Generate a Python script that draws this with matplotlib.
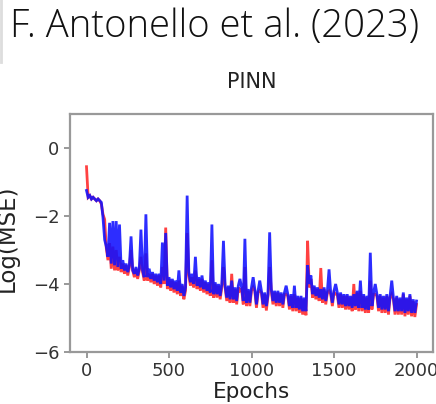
import numpy as np
import matplotlib
matplotlib.use("Agg")
import matplotlib.pyplot as plt
from matplotlib.lines import Line2D

# epochs sampled every 10 (0..2000)
epochs = np.arange(0, 2001, 10)

# log(MSE), blue curve
blue_loss = [
    -1.25, -1.45, -1.4, -1.5, -1.45, -1.5, -1.55, -1.5, -1.55, -1.6,
    -2.05, -2.7, -2.9, -3.2, -2.2, -3.4, -2.15, -3.45, -2.15, -3.5,
    -2.25, -3.55, -3.3, -3.6, -3.4, -3.65, -3.45, -2.6, -3.6, -3.7,
    -3.5, -3.75, -3.55, -2.4, -3.6, -3.8, -1.95, -3.8, -3.55, -3.85,
    -3.65, -3.9, -3.7, -3.95, -3.7, -4.0, -2.78, -3.9, -2.5, -4.05,
    -3.8, -4.1, -3.85, -4.15, -3.9, -4.2, -3.6, -4.25, -4.0, -4.35,
    -4.1, -1.4, -3.65, -3.95, -3.7, -4.0, -3.2, -4.05, -3.8, -4.1,
    -3.75, -4.15, -3.9, -4.2, -3.95, -4.25, -2.25, -4.3, -3.95, -4.3,
    -4.0, -4.35, -4.0, -2.73, -4.05, -4.4, -4.05, -4.45, -3.9, -4.45,
    -4.1, -4.5, -4.05, -3.85, -4.1, -4.5, -2.67, -4.55, -4.15, -4.55,
    -4.1, -3.8, -4.15, -4.6, -4.2, -3.9, -4.2, -4.6, -4.25, -4.65,
    -4.3, -2.48, -4.15, -4.5, -4.2, -4.55, -4.2, -4.55, -4.25, -4.6,
    -4.25, -4.05, -4.3, -4.65, -4.3, -4.7, -4.05, -4.7, -4.35, -4.75,
    -4.35, -4.8, -4.4, -4.8, -3.45, -4.0, -3.75, -4.3, -4.05, -4.35,
    -4.1, -4.4, -4.15, -4.45, -4.1, -4.5, -4.2, -3.57, -4.25, -4.55,
    -4.2, -4.0, -4.25, -4.6, -4.25, -4.6, -4.3, -4.65, -4.3, -4.65,
    -4.35, -4.7, -4.3, -4.65, -4.2, -4.7, -3.9, -4.7, -4.3, -4.75,
    -4.35, -4.75, -3.08, -4.65, -4.25, -4.0, -4.3, -4.7, -4.3, -4.75,
    -4.35, -4.75, -4.3, -4.8, -4.35, -3.9, -4.4, -4.8, -4.35, -4.8,
    -4.4, -4.8, -4.25, -4.85, -4.4, -4.8, -4.3, -4.85, -4.45, -4.85,
    -4.5,
]

# red curve (mostly hidden under the blue one)
red_loss = [
    -0.55, -1.45, -1.4, -1.5, -1.45, -1.5, -1.55, -1.5, -1.55, -1.65,
    -1.95, -2.1, -2.95, -3.3, -2.8, -3.55, -2.9, -3.6, -3.0, -3.6,
    -3.2, -3.65, -3.4, -3.7, -3.45, -3.75, -3.5, -3.0, -3.6, -3.8,
    -3.55, -3.85, -3.6, -3.2, -3.65, -3.9, -3.1, -3.9, -3.7, -3.95,
    -3.7, -4.0, -3.75, -4.05, -3.75, -4.1, -3.5, -4.0, -2.34, -4.15,
    -3.85, -4.2, -3.9, -4.25, -3.95, -4.3, -3.9, -4.35, -4.05, -4.45,
    -4.2, -2.5, -3.75, -4.05, -3.8, -4.1, -3.6, -4.15, -3.85, -4.2,
    -3.85, -4.25, -3.95, -4.3, -4.0, -4.35, -3.3, -4.4, -4.0, -4.4,
    -4.05, -4.45, -4.1, -3.5, -4.1, -4.5, -4.1, -4.55, -3.7, -4.55,
    -4.15, -4.6, -4.1, -4.2, -4.15, -4.6, -3.5, -4.65, -4.2, -4.65,
    -4.2, -4.1, -4.2, -4.7, -4.25, -4.2, -4.25, -4.7, -4.3, -4.78,
    -4.35, -3.5, -4.2, -4.6, -4.25, -4.65, -4.25, -4.65, -4.3, -4.7,
    -4.3, -4.3, -4.35, -4.75, -4.35, -4.8, -4.3, -4.8, -4.4, -4.85,
    -4.4, -4.9, -4.45, -4.92, -2.73, -4.1, -3.85, -4.4, -4.1, -4.45,
    -4.15, -4.5, -3.53, -4.55, -4.15, -4.6, -4.25, -4.2, -4.3, -4.65,
    -4.25, -4.3, -4.3, -4.7, -4.3, -4.7, -4.35, -4.75, -4.35, -4.75,
    -4.4, -4.8, -4.0, -4.75, -4.25, -4.8, -4.2, -4.8, -4.35, -4.85,
    -4.4, -4.85, -3.9, -4.75, -4.3, -4.3, -4.35, -4.8, -4.35, -4.85,
    -4.4, -4.85, -4.35, -4.9, -4.4, -4.3, -4.45, -4.9, -4.4, -4.9,
    -4.45, -4.9, -4.3, -4.95, -4.45, -4.9, -4.35, -4.95, -4.5, -4.97,
    -4.6,
]

xticks = [0, 500, 1000, 1500, 2000]
yticks = [0, -2, -4, -6]

fig = plt.figure(figsize=(4.36, 4.04), dpi=100)
ax = fig.add_axes([70 / 436, 52 / 404, 363 / 436, 238 / 404])

ax.plot(epochs, red_loss, color="#ff2020", lw=2.0, alpha=0.85, solid_joinstyle="miter")
ax.plot(epochs, blue_loss, color="#1010ff", lw=2.0, alpha=0.88, solid_joinstyle="miter")

ax.set_xlim(-100, 2100)
ax.set_ylim(-6, 1)
ax.set_xticks(xticks)
ax.set_yticks(yticks)
ax.tick_params(labelsize=13, colors="#888888", labelcolor="#333333", length=4, width=1.2)
for s in ax.spines.values():
    s.set_color("#999999")
    s.set_linewidth(1.6)

ax.set_title("PINN", fontsize=15, color="#222222", pad=19)
ax.set_xlabel("Epochs", fontsize=15.5, color="#222222")
ax.set_ylabel("Log(MSE)", fontsize=16.5, color="#222222")
ax.xaxis.set_label_coords(0.5, -0.125)
ax.yaxis.set_label_coords(-0.14, 0.48)

fig.text(10 / 436, 1 - 37 / 404, "F. Antonello et al. (2023)", family="Open Sans",
         fontweight="light", fontsize=27.5, color="#111111", va="baseline", ha="left")
fig.add_artist(Line2D([1 / 436, 1 / 436], [1 - 62 / 404, 1], color="#dddddd", lw=2))

fig.savefig("out.png", dpi=100)
